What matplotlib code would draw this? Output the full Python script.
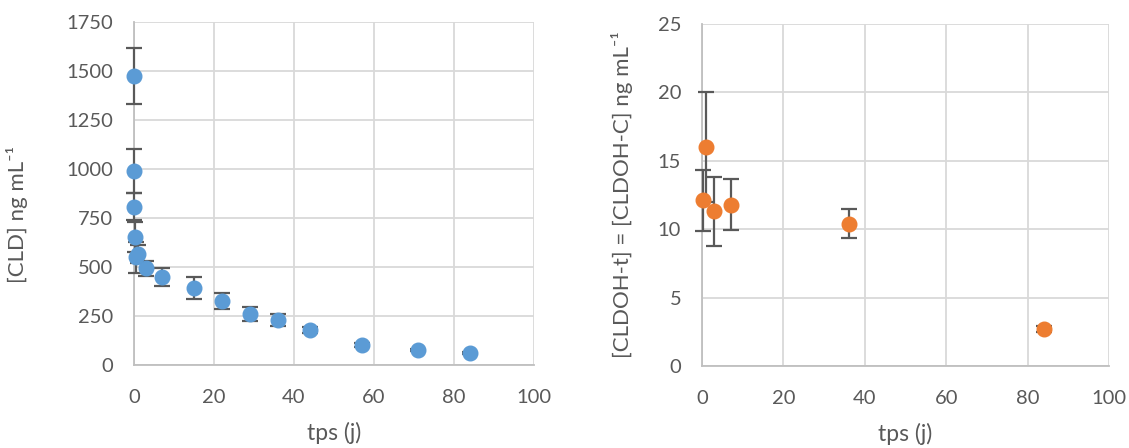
import matplotlib.pyplot as plt

plt.rcParams['font.family'] = ['Lato', 'DejaVu Sans']

# left panel: CLD
t_cld = [0, 0, 0, 0.25, 0.5, 1, 3, 7, 15, 22, 29, 36, 44, 57, 71, 84]
cld = [1476, 991, 808, 655, 550, 565, 493, 447, 391, 326, 259, 230, 180, 100, 77, 60]
cld_err = [142, 112, 70, 76, 80, 45, 38, 46, 56, 40, 35, 30, 15, 10, 6, 4]

# right panel: CLDOH
t_oh = [0.25, 1, 3, 7, 36, 84]
cldoh = [12.1, 16.0, 11.3, 11.8, 10.4, 2.7]
cldoh_err = [2.2, 4.0, 2.55, 1.85, 1.05, 0.2]

grid_c = '#D9D9D9'
spine_c = '#BFBFBF'
text_c = '#595959'
err_c = '#595959'

fig = plt.figure(figsize=(11.29, 4.48), dpi=100)
ax1 = fig.add_axes([0.1187, 0.1853, 0.3543, 0.7656])
ax2 = fig.add_axes([0.6218, 0.1830, 0.3605, 0.7634])


def style(ax):
    ax.grid(True, color=grid_c, linewidth=1.3)
    ax.set_axisbelow(True)
    for s in ax.spines.values():
        s.set_visible(False)
    ax.spines['left'].set_visible(True)
    ax.spines['bottom'].set_visible(True)
    ax.spines['left'].set_color(spine_c)
    ax.spines['bottom'].set_color(spine_c)
    ax.spines['left'].set_linewidth(1.3)
    ax.spines['bottom'].set_linewidth(1.3)
    ax.tick_params(length=0, labelsize=14.5, colors=text_c)
    ax.tick_params(axis='y', pad=15)
    ax.tick_params(axis='x', pad=17)
    ax.set_xlim(0, 100)
    ax.set_xticks(range(0, 101, 20))
    ax.set_xlabel('tps (j)', fontsize=16.5, color=text_c, labelpad=12)


ax1.errorbar(t_cld, cld, yerr=cld_err, fmt='o', color='#5B9BD5', ms=10.5,
             ecolor=err_c, elinewidth=1.6, capsize=6, capthick=1.6, zorder=3,
             clip_on=False)
style(ax1)
ax1.set_ylim(0, 1750)
ax1.set_yticks(range(0, 1751, 250))
ax1.set_ylabel('[CLD] ng mL⁻¹', fontsize=16, color=text_c)
ax1.yaxis.set_label_coords(-0.265, 0.44)

ax2.errorbar(t_oh, cldoh, yerr=cldoh_err, fmt='o', color='#ED7D31', ms=10.5,
             ecolor=err_c, elinewidth=1.6, capsize=6, capthick=1.6, zorder=3,
             clip_on=False)
style(ax2)
ax2.set_ylim(0, 25)
ax2.set_yticks(range(0, 26, 5))
ax2.set_ylabel('[CLDOH-t] = [CLDOH-C] ng mL⁻¹', fontsize=16, color=text_c, labelpad=18)

fig.savefig('out.png', dpi=100)
